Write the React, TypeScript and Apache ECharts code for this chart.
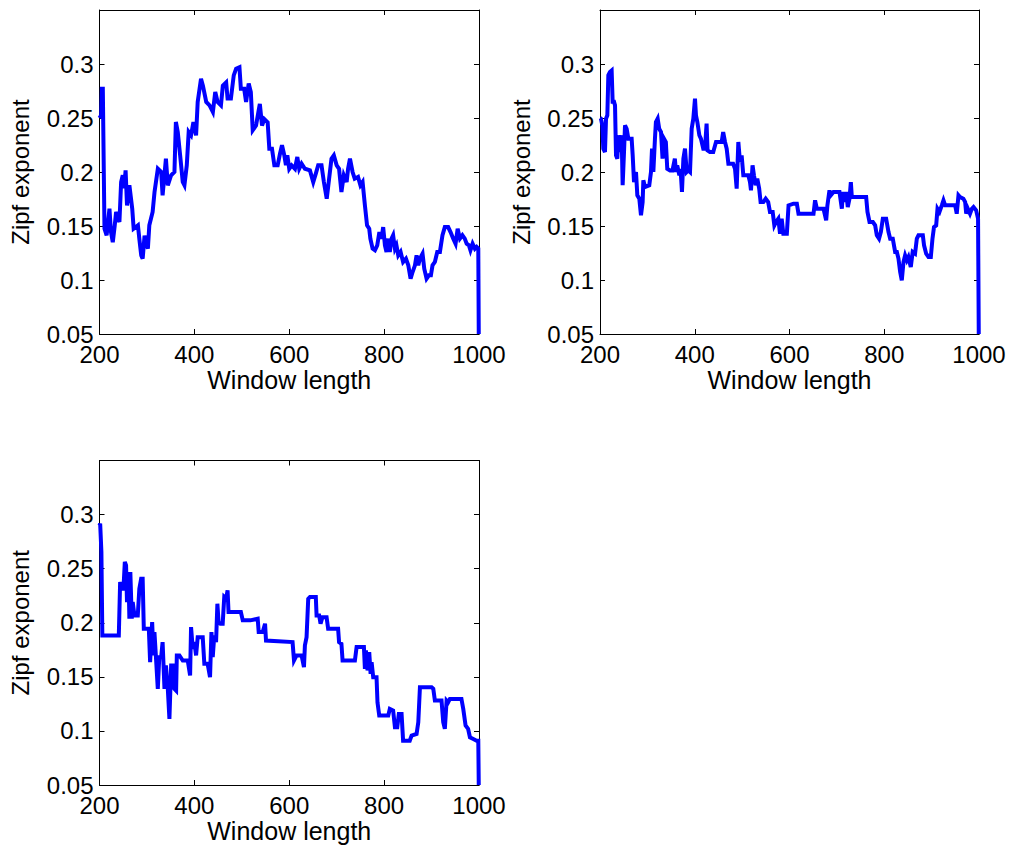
import React, { useEffect, useRef } from "react";
import * as echarts from "echarts";

const xLabel = "Window length";
const yLabel = "Zipf exponent";
const xRange = [200, 1000];
const xStep = 200;
const yRange = [0.05, 0.35];
const yStep = 0.05;

const seriesTopLeft: [number, number][] = [
  [200, 0.25], [203.5, 0.2525], [205, 0.277], [207, 0.277], [210.5, 0.1475], [215, 0.1414], [221, 0.166], [224, 0.145],
  [228, 0.135], [232, 0.15], [235, 0.163], [242, 0.1537], [245.6, 0.1907], [249, 0.197], [252, 0.185], [255, 0.2015],
  [258, 0.169], [263, 0.1877], [269, 0.166], [272, 0.1475], [281, 0.1506], [284, 0.138], [288, 0.1228], [291, 0.1198],
  [295, 0.141], [302, 0.129], [305, 0.1506], [312, 0.163], [316, 0.1815], [323, 0.203], [330, 0.2], [333, 0.1784],
  [340, 0.2123], [344, 0.1877], [351, 0.197], [358, 0.2], [361, 0.2463], [365, 0.237], [370, 0.2154], [375.5, 0.1907],
  [379, 0.1877], [384, 0.2062], [388, 0.237], [393, 0.234], [398, 0.2463], [403.6, 0.234], [407, 0.2648], [414, 0.2864],
  [418, 0.28], [425, 0.2648], [432, 0.2617], [439, 0.2556], [444, 0.274], [449, 0.2648], [456, 0.2617], [460, 0.28],
  [467, 0.283], [470, 0.268], [477, 0.268], [483, 0.2895], [488, 0.2957], [495, 0.297], [498, 0.277], [505, 0.277],
  [509, 0.2648], [514.5, 0.282], [519, 0.274], [523, 0.2386], [530, 0.243], [535, 0.2556], [538, 0.263], [542.6, 0.243],
  [547.5, 0.249], [554.5, 0.246], [558, 0.2216], [563.6, 0.2216], [568.6, 0.2062], [575.6, 0.2062], [580.5, 0.217],
  [584.7, 0.2247], [589.6, 0.2154], [593, 0.2062], [596, 0.2154], [600, 0.203], [605, 0.2062], [612, 0.203],
  [617, 0.2139], [621, 0.203], [626, 0.2077], [633, 0.203], [643.6, 0.2015], [650.6, 0.1907], [656, 0.1985],
  [661, 0.2062], [668, 0.2062], [673, 0.1907], [679, 0.1753], [684, 0.1938], [689, 0.2123], [694, 0.2154], [700, 0.2062],
  [705, 0.203], [710, 0.1815], [715, 0.197], [721, 0.1907], [724, 0.203], [728, 0.2123], [733.5, 0.2], [738, 0.1938],
  [745, 0.1954], [750, 0.1877], [754.6, 0.1907], [759.5, 0.1691], [764, 0.1506], [768.6, 0.1475], [771, 0.1383],
  [775.7, 0.129], [780.6, 0.1275], [785.5, 0.1321], [790, 0.1444], [794.6, 0.1383], [798, 0.149], [801.7, 0.1321],
  [805, 0.126], [808.7, 0.1383], [812, 0.126], [815.7, 0.1383], [819, 0.1414], [822.8, 0.129], [826, 0.1321],
  [829.8, 0.1228], [834.7, 0.126], [840, 0.1167], [846, 0.1198], [851, 0.1136], [855.8, 0.1012], [860, 0.1074],
  [865, 0.1136], [868.4, 0.1228], [872, 0.1136], [875.5, 0.1198], [881, 0.1244], [884.6, 0.1105], [889.5, 0.1012],
  [894.4, 0.1043], [898.6, 0.1043], [902, 0.1136], [907, 0.1167], [912, 0.126], [917.6, 0.126], [923, 0.1414],
  [928, 0.149], [935, 0.149], [940, 0.1444], [945.7, 0.1383], [950.6, 0.1336], [955, 0.1475], [959.8, 0.1383],
  [965, 0.1414], [970, 0.1383], [974, 0.1336], [978.8, 0.1321], [982, 0.1275], [986.5, 0.1336], [991.4, 0.129],
  [995, 0.1306], [998.5, 0.129], [999.5, 0.05],
];

const seriesTopRight: [number, number][] = [
  [200, 0.25], [202, 0.2494], [205, 0.243], [207, 0.2216], [210.5, 0.2185], [212.7, 0.2494], [215.5, 0.2525],
  [217.6, 0.2895], [221, 0.2926], [224.6, 0.294], [226.7, 0.265], [229.6, 0.265], [231.7, 0.2617], [233.8, 0.2154],
  [236.6, 0.2123], [238.7, 0.234], [242, 0.2185], [245.7, 0.234], [247.8, 0.1877], [250.7, 0.2185], [252.8, 0.2432],
  [256.3, 0.24], [259.8, 0.2309], [266.8, 0.2309], [269, 0.2154], [271.8, 0.1907], [276, 0.2], [278.8, 0.1784],
  [283, 0.1753], [286.5, 0.16], [290, 0.1722], [291.5, 0.1923], [295, 0.1861], [304, 0.1877], [307.6, 0.2],
  [309.8, 0.2216], [312.6, 0.2], [316, 0.2309], [318, 0.2463], [321.7, 0.2494], [325, 0.24], [328.8, 0.237],
  [332, 0.2123], [335, 0.2309], [339, 0.2278], [342, 0.203], [347.8, 0.2015], [353, 0.2015], [358, 0.2123],
  [360.4, 0.2], [363, 0.2062], [367.5, 0.197], [370, 0.203], [373, 0.1815], [376, 0.2123], [379.4, 0.2216], [383, 0.2],
  [386.5, 0.2015], [390, 0.2], [393.5, 0.2401], [397, 0.2494], [400.5, 0.268], [402.6, 0.2525], [405.5, 0.2463],
  [409.7, 0.234], [413, 0.2309], [418, 0.2216], [421.6, 0.2216], [425, 0.2448], [427, 0.22], [432, 0.2185],
  [439, 0.2185], [444.9, 0.2278], [456.8, 0.2278], [460, 0.237], [463.9, 0.2278], [467.4, 0.2216], [471, 0.2077],
  [481, 0.2077], [485, 0.203], [488.5, 0.1846], [492, 0.2278], [495.5, 0.2093], [499, 0.2154], [502.5, 0.197],
  [513, 0.197], [516.6, 0.1907], [518.7, 0.183], [522, 0.2062], [525, 0.197], [528.6, 0.1877], [532, 0.1938],
  [536, 0.1846], [539, 0.1722], [544.8, 0.1722], [549.7, 0.1753], [555, 0.1722], [558.8, 0.163], [564.5, 0.163],
  [568, 0.1506], [571.5, 0.1537], [576.4, 0.1568], [580, 0.1429], [583.5, 0.1568], [587, 0.1429], [594.4, 0.1429],
  [598, 0.1691], [608.4, 0.1707], [615.5, 0.1707], [619, 0.1614], [650.7, 0.1614], [654, 0.1738], [657.7, 0.166],
  [671.8, 0.166], [677.4, 0.1552], [680, 0.1691], [684.4, 0.183], [687, 0.1784], [692.9, 0.1815], [705.5, 0.1815],
  [710.5, 0.166], [712.6, 0.1815], [716, 0.1722], [719.6, 0.1815], [723, 0.1676], [726.6, 0.1753], [729.5, 0.1907],
  [731.6, 0.1768], [761.8, 0.1768], [764.6, 0.163], [768.9, 0.1537], [776, 0.1537], [780.8, 0.1506], [784.3, 0.1414],
  [789, 0.1383], [792.8, 0.1444], [797, 0.1568], [804, 0.1568], [809, 0.1444], [812.5, 0.1383], [818, 0.1383],
  [823, 0.126], [826.6, 0.126], [830, 0.1198], [833.6, 0.1074], [837, 0.0997], [840.6, 0.1167], [844, 0.1228],
  [847.7, 0.1182], [851, 0.1213], [856, 0.112], [860, 0.126], [865, 0.1244], [868.8, 0.1383], [872.3, 0.1414],
  [881.4, 0.1414], [884, 0.1321], [888.5, 0.1244], [893.4, 0.1213], [898.3, 0.1213], [901.8, 0.1383], [905, 0.149],
  [909.6, 0.1506], [912.4, 0.166], [916.6, 0.163], [921.5, 0.1691], [925, 0.1738], [928.6, 0.1691], [949.7, 0.1691],
  [953, 0.1614], [956.7, 0.1784], [960, 0.1768], [967, 0.1753], [970.8, 0.1722], [973, 0.1614], [976.4, 0.166],
  [981, 0.1614], [984.9, 0.166], [988.4, 0.1676], [994, 0.1645], [998, 0.1568], [999.5, 0.05],
];

const seriesBottomLeft: [number, number][] = [
  [200, 0.29], [201.4, 0.2917], [204, 0.2654], [206, 0.1883], [240.7, 0.1883], [243.5, 0.2377], [247.7, 0.2315],
  [250.5, 0.2315], [253.4, 0.2562], [256, 0.2531], [258, 0.2191], [261, 0.2469], [263, 0.2037], [265, 0.2469],
  [268, 0.2037], [270, 0.2191], [273.7, 0.2068], [280.7, 0.2068], [284, 0.2315], [287.8, 0.2407], [291, 0.2407],
  [293.4, 0.1944], [304, 0.1944], [306.7, 0.1636], [311, 0.2006], [313.7, 0.1698], [315.8, 0.1914], [319, 0.1682],
  [322.9, 0.1389], [326, 0.1682], [330, 0.1682], [333, 0.1821], [337, 0.1389], [340, 0.1605], [344, 0.1389],
  [347.4, 0.1111], [351, 0.1605], [354.4, 0.1605], [358, 0.1389], [361.5, 0.1373], [363, 0.1698], [368.5, 0.1698],
  [375.5, 0.1651], [386, 0.1651], [391, 0.1512], [393, 0.196], [396.6, 0.1759], [400, 0.1821], [403.6, 0.1698],
  [407, 0.1867], [417.6, 0.1867], [421, 0.162], [428, 0.162], [433, 0.1497], [436, 0.1914], [438.7, 0.1682],
  [442, 0.1883], [445.7, 0.1821], [448.5, 0.2176], [451, 0.2006], [454.8, 0.1991], [459.7, 0.1991], [463, 0.2238],
  [466.8, 0.2222], [470, 0.23], [472, 0.2099], [498, 0.2099], [502, 0.2022], [518, 0.2022], [533.5, 0.2037],
  [535.6, 0.1914], [544, 0.1914], [549, 0.1991], [551, 0.1836], [607, 0.1821], [610, 0.1651], [615.5, 0.1698],
  [626, 0.1698], [631, 0.159], [633, 0.179], [636.5, 0.1867], [640, 0.2222], [643.6, 0.2238], [656, 0.2238],
  [657.6, 0.2068], [663, 0.2068], [666, 0.1991], [670, 0.2052], [678.7, 0.2052], [682, 0.1944], [703, 0.1944],
  [705, 0.1821], [710, 0.1806], [712.4, 0.1651], [738.4, 0.1651], [742, 0.1775], [757.4, 0.1775], [759.5, 0.1574],
  [761.6, 0.1744], [765, 0.1559], [768.6, 0.1728], [771.5, 0.1528], [773.6, 0.1636], [777, 0.1497], [784, 0.1497],
  [786, 0.1265], [789.7, 0.1142], [808.7, 0.1142], [812, 0.1204], [819, 0.1188], [822.8, 0.1034], [827.7, 0.1034],
  [831, 0.1157], [836.8, 0.1157], [840, 0.091], [854, 0.091], [857.9, 0.0957], [868.4, 0.0972], [872, 0.108],
  [875.5, 0.1404], [900, 0.1404], [903.6, 0.1389], [907, 0.1281], [921, 0.1281], [924.6, 0.108], [928, 0.1019],
  [931.7, 0.1281], [935, 0.1265], [938.7, 0.1296], [963, 0.1296], [966.8, 0.1204], [971.7, 0.105], [977, 0.1019],
  [980.9, 0.0941], [988, 0.0926], [995, 0.091], [998.5, 0.091], [999.5, 0.05],
];

const panels = [seriesTopLeft, seriesTopRight, seriesBottomLeft];

export default function App() {
  const ref = useRef<HTMLDivElement>(null);
  useEffect(() => {
    const chart = echarts.init(ref.current!, null, { renderer: "svg" });
    const font = { fontFamily: "Liberation Sans, Arial, sans-serif", fontSize: 24, color: "#000" };
    const grids = [
      { left: 99.5, top: 10, width: 379.5, height: 324 },
      { left: 600, top: 10, width: 379, height: 324 },
      { left: 99.5, top: 460.5, width: 379.5, height: 324.5 },
    ];
    const axisLine = { show: true, onZero: false, lineStyle: { color: "#000", width: 1 } };
    const tick = { show: true, inside: true, length: 5, lineStyle: { color: "#000", width: 1 } };
    const xAxes: any[] = [];
    const yAxes: any[] = [];
    grids.forEach((_, i) => {
      xAxes.push({
        type: "value", gridIndex: i, position: "bottom", min: xRange[0], max: xRange[1], interval: xStep,
        axisLine, axisTick: tick, splitLine: { show: false },
        axisLabel: { ...font, margin: 8, showMinLabel: true, showMaxLabel: true, formatter: (v: number) => String(v) },
        name: xLabel, nameLocation: "middle", nameGap: 33, nameTextStyle: { ...font, fontSize: 25 },
      });
      xAxes.push({
        type: "value", gridIndex: i, position: "top", min: xRange[0], max: xRange[1], interval: xStep,
        axisLine, axisTick: tick, splitLine: { show: false }, axisLabel: { show: false },
      });
      yAxes.push({
        type: "value", gridIndex: i, position: "left", min: yRange[0], max: yRange[1], interval: yStep,
        axisLine, axisTick: tick, splitLine: { show: false },
        axisLabel: {
          ...font, margin: 6, showMinLabel: true, showMaxLabel: true,
          formatter: (v: number) => (v > 0.34 ? "" : String(Math.round(v * 100) / 100)),
        },
        name: yLabel, nameLocation: "middle", nameGap: 67, nameTextStyle: { ...font },
      });
      yAxes.push({
        type: "value", gridIndex: i, position: "right", min: yRange[0], max: yRange[1], interval: yStep,
        axisLine, axisTick: tick, splitLine: { show: false }, axisLabel: { show: false },
      });
    });
    chart.setOption({
      animation: false,
      backgroundColor: "#fff",
      grid: grids.map((g) => ({ ...g, containLabel: false })),
      xAxis: xAxes,
      yAxis: yAxes,
      series: panels.map((data, i) => ({
        type: "line",
        xAxisIndex: 2 * i,
        yAxisIndex: 2 * i,
        data,
        showSymbol: false,
        symbol: "none",
        clip: true,
        lineStyle: { color: "#0000ff", width: 4, join: "miter" },
      })),
    });
    return () => chart.dispose();
  }, []);
  return (
    <div
      ref={ref}
      style={{ position: "fixed", left: 0, top: 0, width: 1012, height: 847, background: "#fff" }}
    />
  );
}
